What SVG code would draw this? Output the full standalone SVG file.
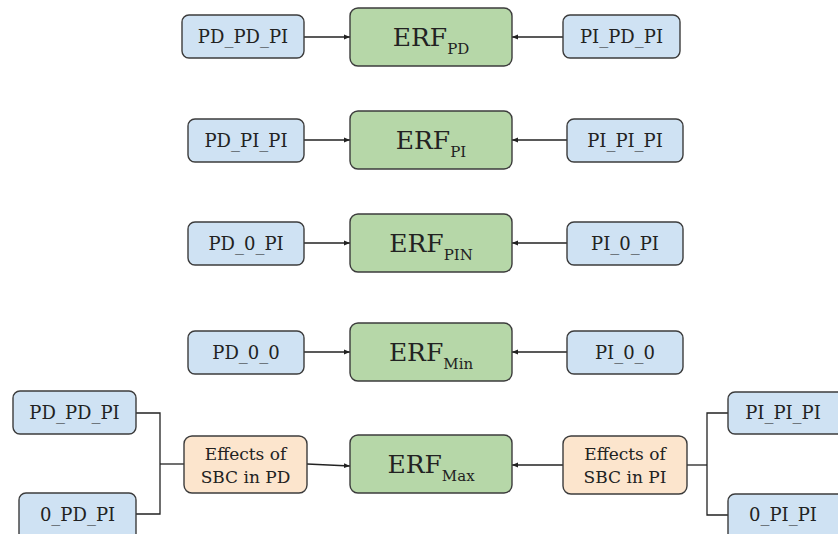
<svg xmlns="http://www.w3.org/2000/svg" width="838" height="534" viewBox="0 0 838 534">
<defs>
<marker id="ah" viewBox="0 0 10 10" refX="10" refY="5" markerWidth="6" markerHeight="6" orient="auto" markerUnits="userSpaceOnUse">
<path d="M0,1 L10,5 L0,9 z" fill="#222"/>
</marker>
<style>
rect{stroke:#3c3c3c;stroke-width:1.4}
.b{fill:#cfe2f3}
.g{fill:#b6d7a8}
.o{fill:#fce5cd}
text{font-family:"DejaVu Serif","Liberation Serif",serif;fill:#222;text-anchor:middle}
.t{font-size:18px}
.f{font-size:17px}
.e{font-size:25px}
.s{font-size:15px}
.c line,.c polyline{stroke:#222;stroke-width:1.3;fill:none}
</style>
</defs>
<rect width="838" height="534" fill="#fff" style="stroke:none"/>
<g class="c" id="connectors">
<line x1="304" y1="37" x2="350" y2="37" marker-end="url(#ah)"/>
<line x1="563" y1="37" x2="512" y2="37" marker-end="url(#ah)"/>
<line x1="304" y1="140" x2="350" y2="140" marker-end="url(#ah)"/>
<line x1="567" y1="140" x2="512" y2="140" marker-end="url(#ah)"/>
<line x1="304" y1="243" x2="350" y2="243" marker-end="url(#ah)"/>
<line x1="567" y1="243" x2="512" y2="243" marker-end="url(#ah)"/>
<line x1="304" y1="352" x2="350" y2="352" marker-end="url(#ah)"/>
<line x1="567" y1="352" x2="512" y2="352" marker-end="url(#ah)"/>
<line x1="307" y1="464" x2="350" y2="466" marker-end="url(#ah)"/>
<line x1="563" y1="465" x2="512" y2="465" marker-end="url(#ah)"/>
<polyline points="136,413 160,413 160,514 136,514"/>
<line x1="160" y1="464" x2="184" y2="464"/>
<polyline points="728,413 707,413 707,515 728,515"/>
<line x1="687" y1="465" x2="707" y2="465"/>
</g>
<g id="n1l"><rect class="b" x="182" y="15" width="122" height="43" rx="7"/><text class="t" x="243" y="43">PD_PD_PI</text></g>
<g id="n1"><rect class="g" x="350" y="8" width="162" height="58" rx="8"/><text class="e" x="431" y="46">ERF<tspan class="s" dy="8">PD</tspan></text></g>
<g id="n1r"><rect class="b" x="563" y="15" width="117" height="43" rx="7"/><text class="t" x="621.5" y="43">PI_PD_PI</text></g>
<g id="n2l"><rect class="b" x="188" y="119" width="116" height="43" rx="7"/><text class="t" x="246" y="147">PD_PI_PI</text></g>
<g id="n2"><rect class="g" x="350" y="111" width="162" height="58" rx="8"/><text class="e" x="431" y="149">ERF<tspan class="s" dy="8">PI</tspan></text></g>
<g id="n2r"><rect class="b" x="567" y="119" width="116" height="43" rx="7"/><text class="t" x="625" y="147">PI_PI_PI</text></g>
<g id="n3l"><rect class="b" x="188" y="222" width="116" height="43" rx="7"/><text class="t" x="246" y="250">PD_0_PI</text></g>
<g id="n3"><rect class="g" x="350" y="214" width="162" height="58" rx="8"/><text class="e" x="431" y="252">ERF<tspan class="s" dy="8">PIN</tspan></text></g>
<g id="n3r"><rect class="b" x="567" y="222" width="116" height="43" rx="7"/><text class="t" x="625" y="250">PI_0_PI</text></g>
<g id="n4l"><rect class="b" x="188" y="331" width="116" height="43" rx="7"/><text class="t" x="246" y="359">PD_0_0</text></g>
<g id="n4"><rect class="g" x="350" y="323" width="162" height="58" rx="8"/><text class="e" x="431" y="361">ERF<tspan class="s" dy="8">Min</tspan></text></g>
<g id="n4r"><rect class="b" x="567" y="331" width="116" height="43" rx="7"/><text class="t" x="625" y="359">PI_0_0</text></g>
<g id="n5"><rect class="g" x="350" y="435" width="162" height="58" rx="8"/><text class="e" x="431" y="473">ERF<tspan class="s" dy="8">Max</tspan></text></g>
<g id="effpd"><rect class="o" x="184" y="436" width="123" height="57" rx="8"/><text class="f" x="245.5" y="460">Effects of</text><text class="f" x="245.5" y="483">SBC in PD</text></g>
<g id="effpi"><rect class="o" x="563" y="436" width="124" height="58" rx="8"/><text class="f" x="625" y="460">Effects of</text><text class="f" x="625" y="483">SBC in PI</text></g>
<g id="l1"><rect class="b" x="13" y="391" width="123" height="43" rx="7"/><text class="t" x="74.5" y="419">PD_PD_PI</text></g>
<g id="l2"><rect class="b" x="19" y="493" width="117" height="50" rx="7"/><text class="t" x="77.5" y="521">0_PD_PI</text></g>
<g id="r1"><rect class="b" x="728" y="392" width="122" height="42" rx="7"/><text class="t" x="783" y="419">PI_PI_PI</text></g>
<g id="r2"><rect class="b" x="728" y="494" width="122" height="50" rx="7"/><text class="t" x="783" y="521">0_PI_PI</text></g>
</svg>
